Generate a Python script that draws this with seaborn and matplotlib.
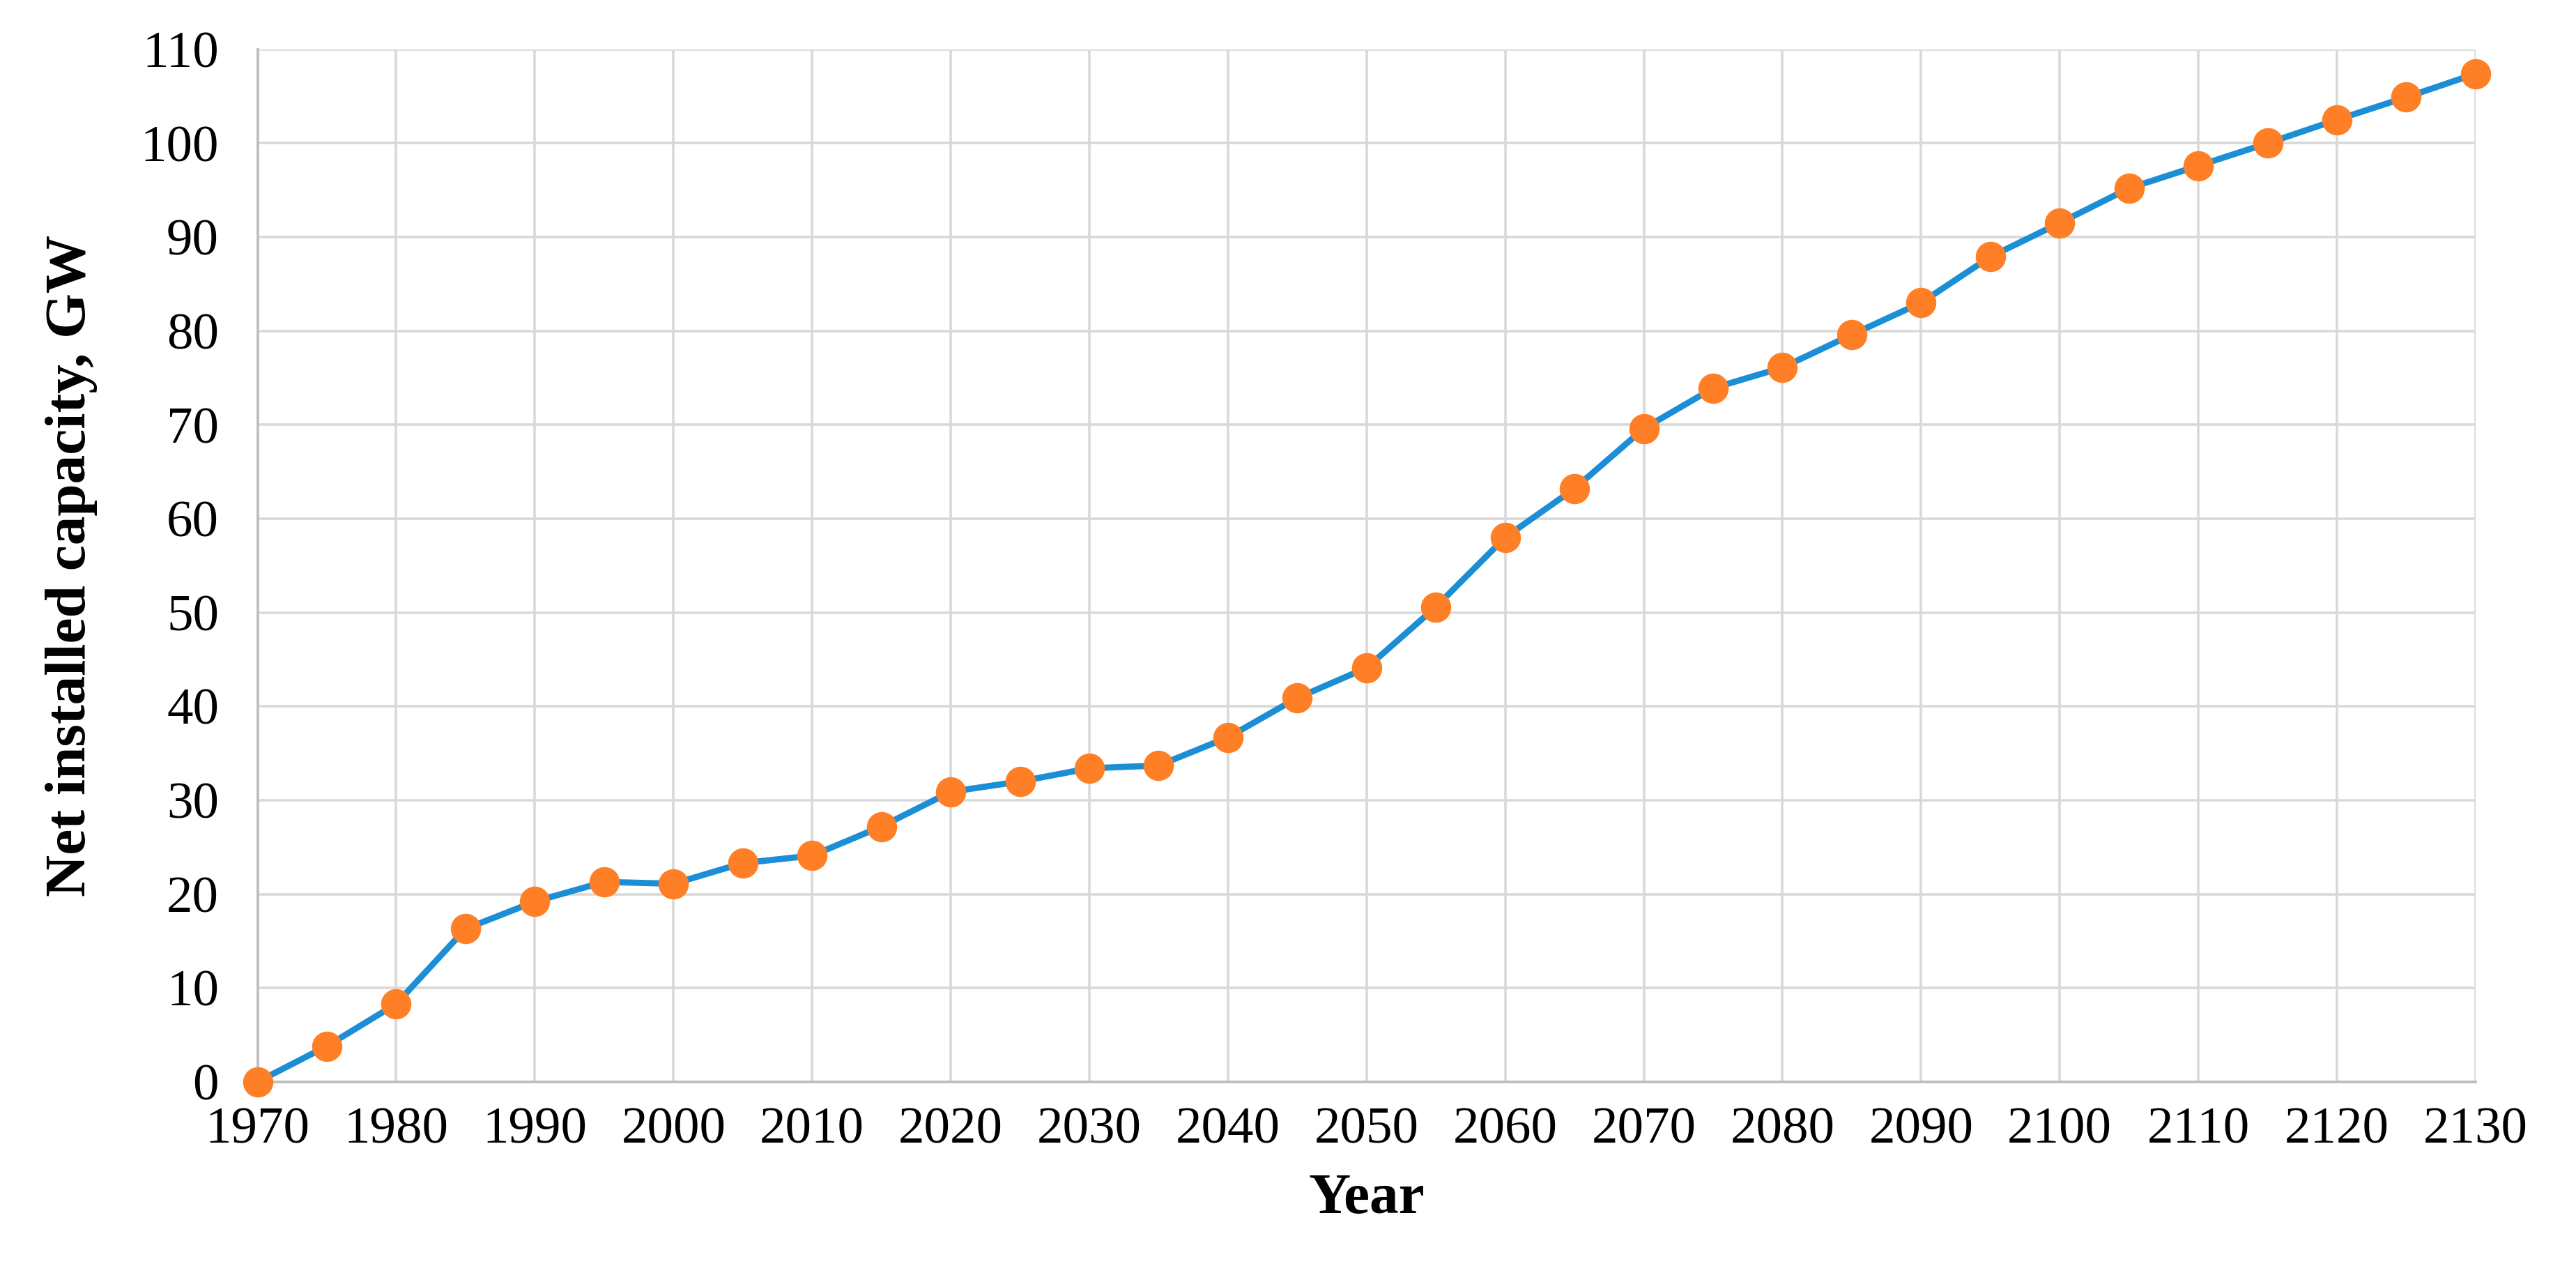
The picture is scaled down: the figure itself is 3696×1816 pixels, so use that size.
import numpy as np
import pandas as pd
import matplotlib
matplotlib.use("Agg")
import matplotlib.pyplot as plt
from matplotlib.ticker import MultipleLocator
import seaborn as sns

# ── Data ────────────────────────────────────────────────────────────────────
years = [1970, 1975, 1980, 1985, 1990, 1995, 2000, 2005, 2010, 2015, 2020,
         2025, 2030, 2035, 2040, 2045, 2050, 2055, 2060, 2065, 2070, 2075,
         2080, 2085, 2090, 2095, 2100, 2105, 2110, 2115, 2120, 2125, 2130]
capacity = [0.0, 3.8, 8.3, 16.3, 19.2, 21.3, 21.1, 23.3, 24.1, 27.2, 30.9,
            32.0, 33.4, 33.7, 36.7, 40.9, 44.1, 50.6, 58.0, 63.2, 69.6, 73.9,
            76.1, 79.6, 83.0, 87.9, 91.5, 95.2, 97.6, 100.0, 102.5, 104.9, 107.4]
df = pd.DataFrame({"year": years, "capacity": capacity})

# ── Style ───────────────────────────────────────────────────────────────────
LINE   = "#1B8ED6"
MARKER = "#FF7F27"
GRID   = "#D9D9D9"
sns.set_theme(style="white")
plt.rcParams.update({
    "font.family": ["Liberation Serif", "DejaVu Serif"],
    "axes.edgecolor": "#BFBFBF",
    "axes.labelcolor": "black",
    "text.color": "black",
})

fig = plt.figure(figsize=(18.48, 9.08), dpi=200)
ax = fig.add_axes([0.100, 0.1455, 0.861, 0.8155])

sns.lineplot(data=df, x="year", y="capacity", ax=ax, color=LINE,
             linewidth=3.2, zorder=3)
sns.scatterplot(data=df, x="year", y="capacity", ax=ax, color=MARKER,
                edgecolor=MARKER, s=210, zorder=4, clip_on=False)

ax.set_xlim(1970, 2130)
ax.set_ylim(0, 110)
ax.xaxis.set_major_locator(MultipleLocator(10))
ax.xaxis.set_minor_locator(MultipleLocator(2))
ax.yaxis.set_major_locator(MultipleLocator(10))
ax.yaxis.set_minor_locator(MultipleLocator(2))
ax.grid(True, which="major", color=GRID, linewidth=1.3, zorder=0)
ax.set_axisbelow(True)

for s in ["top", "right"]:
    ax.spines[s].set_visible(False)
for s in ["left", "bottom"]:
    ax.spines[s].set_color("#BFBFBF")
    ax.spines[s].set_linewidth(1.4)

ax.tick_params(axis="both", which="major", direction="in", length=9,
               width=1.2, color="#BFBFBF", labelsize=27, labelcolor="black")
ax.tick_params(axis="both", which="minor", direction="in", length=6,
               width=1.2, color="#BFBFBF")
ax.tick_params(axis="y", which="major", pad=20)
ax.tick_params(axis="x", which="major", pad=13)

ax.set_xlabel("Year", fontsize=30, fontweight="bold", labelpad=10)
ax.set_ylabel("Net installed capacity, GW", fontsize=30, fontweight="bold",
              labelpad=22)

plt.savefig("out.png", dpi=200, facecolor="white")
